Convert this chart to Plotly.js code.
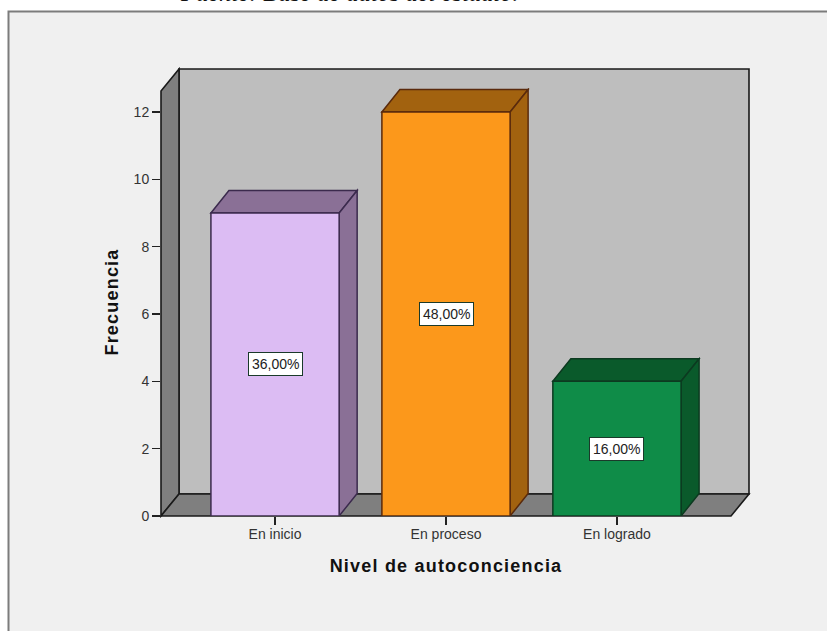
<!DOCTYPE html>
<html><head><meta charset="utf-8">
<script src="https://cdn.plot.ly/plotly-3.0.1.min.js"></script>
<style>html,body{margin:0;padding:0;background:#fff}#c{width:827px;height:631px}
#c .xtitle,#c .ytitle{letter-spacing:1.2px}</style>
</head><body><div id="c"></div>
<script>
const categories = ['En inicio', 'En proceso', 'En logrado'];
const frecuencia = [9, 12, 4];
const porcentajes = ['36,00%', '48,00%', '16,00%'];
const frontColors = ['#dcbcf3', '#fc981b', '#0f8c48'];
const shadeColors = ['#8a7096', '#a2620f', '#0a5a2b'];
const edgeColors = ['#3b2a4d', '#5a2a0c', '#0c3a20'];
const tickValues = [0, 2, 4, 6, 8, 10, 12];

const W = 827, H = 631;
const px = v => v / W, py = v => 1 - v / H;
// front plane of the chart box, pixels
const L = 161, R = 731, B = 516, T = 91, DX = 18, DY = 22, TOPDOM = 88;
const unitY = 33.67, barW = 0.75;
const xMin = -0.667, xMax = 2.667;
const dxData = DX / ((R - L) / (xMax - xMin)), dyData = 22.5 / unitY;
const poly = pts => 'M' + pts.map(p => p.join(',')).join('L') + 'Z';
const paperRefs = {xref: 'paper', yref: 'paper', layer: 'below'};

const shapes = [
  // panel frame
  {...paperRefs, type: 'rect', x0: px(8.5), x1: 1.01, y0: -0.01, y1: py(11.5), fillcolor: '#f0f0f0', line: {color: '#7c7c7c', width: 2}},
];
const wall = (pts, fill) => shapes.push({...paperRefs, type: 'path',
  path: poly(pts.map(p => [px(p[0]), py(p[1])])), fillcolor: fill, line: {color: '#1a1a1a', width: 1.6}});
wall([[L + DX, T - DY], [R + DX, T - DY], [R + DX, B - DY], [L + DX, B - DY]], '#bebebe');
wall([[L, T], [L + DX, T - DY], [L + DX, B - DY], [L, B]], '#7f7f7f');
wall([[L, B], [L + DX, B - DY], [R + DX, B - DY], [R, B]], '#7f7f7f');

frecuencia.forEach((v, i) => {
  const a = i - barW / 2, b = i + barW / 2;
  const face = pts => shapes.push({type: 'path', xref: 'x', yref: 'y', layer: 'below', path: poly(pts),
    fillcolor: shadeColors[i], line: {color: edgeColors[i], width: 1.5}});
  face([[a, v], [a + dxData, v + dyData], [b + dxData, v + dyData], [b, v]]);
  face([[b, 0], [b, v], [b + dxData, v + dyData], [b + dxData, dyData]]);
});

const annotations = frecuencia.map((v, i) => ({
  x: categories[i], y: v / 2, xref: 'x', yref: 'y', text: porcentajes[i], showarrow: false,
  font: {family: 'Liberation Sans, Arial, sans-serif', size: 14, color: '#222'},
  bgcolor: '#ffffff', bordercolor: '#1a3a2a', borderwidth: 1, borderpad: 3
}));
annotations.push({
  xref: 'paper', yref: 'paper', x: px(179), y: py(7.5), xanchor: 'left', yanchor: 'bottom', showarrow: false,
  text: '<i>Fuente: Base de datos del estudio.</i>', borderpad: 0,
  font: {family: 'Liberation Serif, serif', size: 24.5, color: '#111'}
});

const axisFont = {family: 'Liberation Sans, Arial, sans-serif', size: 14, color: '#333'};
const titleFont = {family: 'Liberation Sans, Arial, sans-serif', size: 18, color: '#111', weight: 'bold'};

Plotly.newPlot('c', [{
  type: 'bar', x: categories, y: frecuencia, width: barW,
  marker: {color: frontColors, line: {color: edgeColors, width: 1.5}},
  hoverinfo: 'x+y'
}], {
  width: W, height: H,
  margin: {l: 0, r: 0, t: 0, b: 0, autoexpand: false},
  paper_bgcolor: '#ffffff', plot_bgcolor: 'rgba(0,0,0,0)', showlegend: false,
  xaxis: {
    domain: [px(L), px(R)], type: 'category', range: [xMin, xMax], categoryorder: 'array', categoryarray: categories,
    showgrid: false, zeroline: false, showline: false, ticks: 'outside', ticklen: 8, tickwidth: 1.2, tickcolor: '#222',
    tickfont: axisFont, automargin: false, ticklabelstandoff: -3,
    title: {text: 'Nivel de autoconciencia', font: titleFont, standoff: 18}
  },
  yaxis: {
    domain: [py(B), py(TOPDOM)], range: [0, (B - TOPDOM) / unitY], tickmode: 'array', tickvals: tickValues,
    showgrid: false, zeroline: false, showline: false, ticks: 'outside', ticklen: 8, tickwidth: 1.2, tickcolor: '#222',
    tickfont: axisFont, automargin: false,
    title: {text: 'Frecuencia', font: titleFont, standoff: 10}
  },
  shapes, annotations
}, {displayModeBar: false, staticPlot: true});
</script></body></html>
